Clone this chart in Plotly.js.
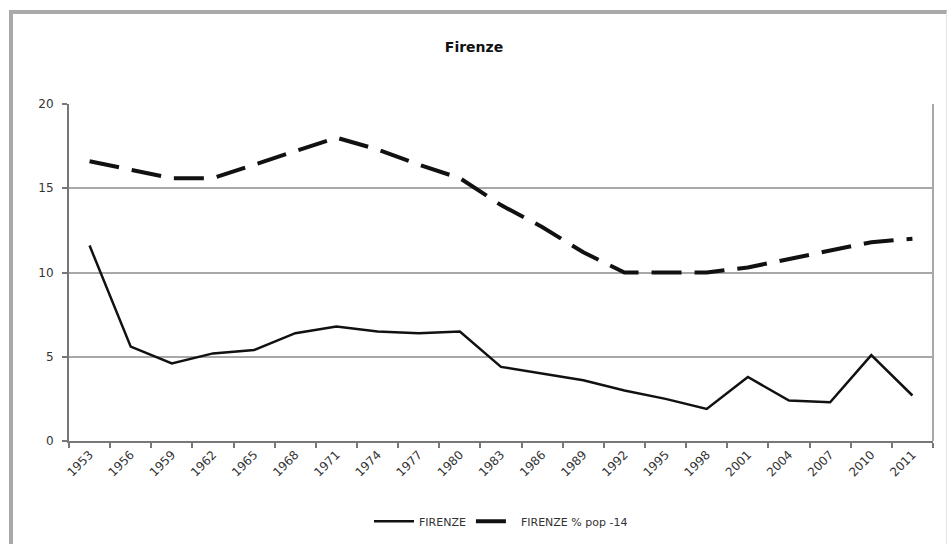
<!DOCTYPE html>
<html>
<head>
<meta charset="utf-8">
<script src="https://cdn.plot.ly/plotly-3.0.1.min.js"></script>
<style>
  html, body { margin: 0; padding: 0; background: #fff; overflow: hidden; }
  #wrap { position: relative; width: 948px; height: 544px; }
  #chart { width: 948px; height: 544px; }
  #frame { position: absolute; left: 9px; top: 10px; width: 933px; height: 560px;
           border-left: 4px solid #a9a9a9; border-top: 4px solid #a9a9a9; border-right: 1px solid #e4e4e4;
           pointer-events: none; }
</style>
</head>
<body>
<div id="wrap">
  <div id="chart"></div>
  <div id="frame"></div>
</div>
<script>
const years = ["1953","1956","1959","1962","1965","1968","1971","1974","1977","1980","1983","1986","1989","1992","1995","1998","2001","2004","2007","2010","2011"];
const firenze = [11.6, 5.6, 4.6, 5.2, 5.4, 6.4, 6.8, 6.5, 6.4, 6.5, 4.4, 4.0, 3.6, 3.0, 2.5, 1.9, 3.8, 2.4, 2.3, 5.1, 2.7];
const firenzePop14 = [16.6, 16.1, 15.6, 15.6, 16.4, 17.2, 18.0, 17.3, 16.4, 15.6, 14.0, 12.7, 11.2, 10.0, 10.0, 10.0, 10.3, 10.8, 11.3, 11.8, 12.0];
const seriesNames = ["FIRENZE", "FIRENZE % pop -14"];
const chartTitle = "Firenze";

const font = "DejaVu Sans, Verdana, sans-serif";

const traces = [
  { x: years, y: firenze, name: seriesNames[0], type: "scatter", mode: "lines",
    line: { color: "#111111", width: 2.5 } },
  { x: years, y: firenzePop14, name: seriesNames[1], type: "scatter", mode: "lines",
    line: { color: "#111111", width: 4, dash: "30px,13px" } }
];

const layout = {
  width: 948, height: 544,
  margin: { l: 69, r: 15, t: 104, b: 103, autoexpand: false },
  paper_bgcolor: "#ffffff", plot_bgcolor: "#ffffff",
  font: { family: font, color: "#222" },
  title: { text: "<b>" + chartTitle + "</b>", x: 0.5, xanchor: "center", y: 1 - 47/544, yanchor: "middle",
           font: { family: font, size: 14, color: "#111" } },
  showlegend: true,
  legend: { orientation: "h", x: 0.5, xanchor: "center", y: -0.238, yanchor: "middle",
            font: { family: font, size: 11, color: "#333" }, itemwidth: 40, bgcolor: "rgba(0,0,0,0)" },
  xaxis: {
    type: "category", range: [-0.5, years.length - 0.5], automargin: false,
    showgrid: false, showline: true, linecolor: "#777", linewidth: 2,
    ticks: "outside", tickson: "boundaries", ticklen: 5, tickcolor: "#777", tickwidth: 2,
    tickangle: -45, tickfont: { family: font, size: 12, color: "#333" },
    zeroline: false, fixedrange: true
  },
  yaxis: {
    range: [0, 20], dtick: 5, tick0: 0, automargin: false,
    showgrid: true, gridcolor: "#a8a8a8", gridwidth: 2,
    showline: true, linecolor: "#777", linewidth: 2,
    ticks: "outside", ticklen: 5, tickcolor: "#777", tickwidth: 2,
    ticklabelstandoff: 6,
    tickfont: { family: font, size: 12, color: "#333" },
    zeroline: false, fixedrange: true
  },
  shapes: [
    { type: "line", xref: "paper", yref: "paper", x0: 1, x1: 1, y0: 0, y1: 1,
      line: { color: "#a8a8a8", width: 2 } }
  ]
};

Plotly.newPlot("chart", traces, layout, { displayModeBar: false, staticPlot: true });
</script>
</body>
</html>
